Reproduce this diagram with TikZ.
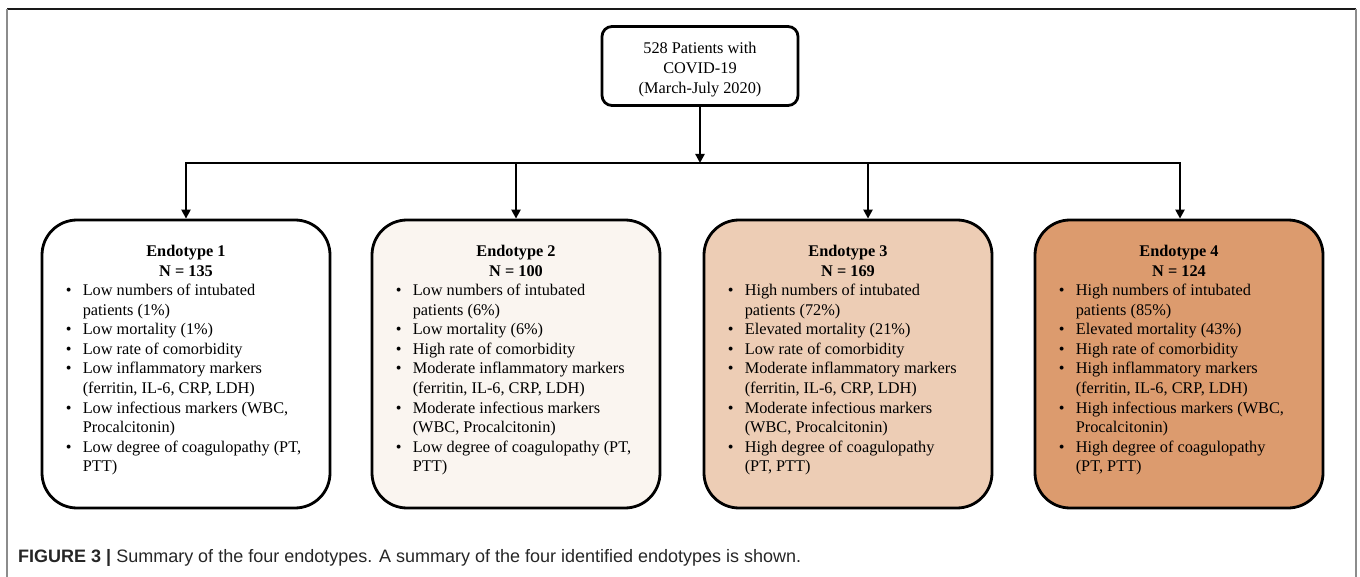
\documentclass[tikz,border=0pt]{standalone}
\usepackage{fontspec}
\setmainfont{Liberation Serif}
\setsansfont{Liberation Sans}
\usetikzlibrary{arrows.meta,positioning}

\definecolor{endo2fill}{HTML}{FAF5F0}
\definecolor{endo3fill}{HTML}{EDCDB5}
\definecolor{endo4fill}{HTML}{DC9B6E}

\begin{document}
\begin{tikzpicture}[x=1pt,y=-1pt]

    % Define styles
    \tikzset{
        start box/.style={draw=black, line width=2.8pt, rounded corners=10pt,
            minimum width=196pt, minimum height=79pt, inner sep=0pt,
            font=\fontsize{16.3}{20}\selectfont},
        endo box/.style={draw=black, line width=2.8pt, rounded corners=35pt,
            minimum width=288pt, minimum height=288pt, inner sep=0pt},
        endo title/.style={inner sep=0pt, font=\fontsize{16.3}{19.6}\selectfont\bfseries},
        endo list/.style={inner sep=0pt, font=\fontsize{16.3}{19.6}\selectfont},
        flow/.style={line width=2.6pt, draw=black},
        flow arrow/.style={flow, -{Triangle[width=9pt,length=9pt]}},
        frame top/.style={line width=1.6pt, draw=black!90},
        frame side/.style={line width=2pt, draw=black!45},
        caption/.style={inner sep=0pt, anchor=base west, font=\fontsize{18}{21}\selectfont\sffamily, text=black!85}
    }

    % Fix the page size
    \useasboundingbox (0,0) rectangle (1360,577);

    % Outer figure frame
    \draw[frame top] (7,9) -- (1356,9);
    \draw[frame side] (7,9) -- (7,577);
    \draw[frame side] (1356,9) -- (1356,577);

    % Starting cohort
    \node[start box] (top-box) at (700,66)
        {\raisebox{-3.5pt}[\height][\depth]{\begin{tabular}{@{}c@{}}528 Patients with\\COVID-19\\(March-July 2020)\end{tabular}}};

    % Endotype boxes
    \node[endo box, fill=white] (endo-1) at (186,364) {};
    \node[endo box, fill=endo2fill] (endo-2) at (516,364) {};
    \node[endo box, fill=endo3fill] (endo-3) at (848,364) {};
    \node[endo box, fill=endo4fill] (endo-4) at (1179,364) {};

    % Define coordinates for the branching line
    \coordinate (split) at (700,163);
    \coordinate (bus-1) at (186,163);
    \coordinate (bus-2) at (516,163);
    \coordinate (bus-3) at (868,163);
    \coordinate (bus-4) at (1180,163);

    % Draw the connectors
    \draw[flow arrow] (top-box) -- (split);
    \draw[flow, line cap=rect] (bus-1) -- (bus-4);
    \draw[flow arrow] (bus-1) -- (bus-1 |- endo-1.north);
    \draw[flow arrow] (bus-2) -- (bus-2 |- endo-2.north);
    \draw[flow arrow] (bus-3) -- (bus-3 |- endo-3.north);
    \draw[flow arrow] (bus-4) -- (bus-4 |- endo-4.north);

    % Endotype 1
    \node[endo title, below=24pt of endo-1.north] (endo-1-title)
        {\begin{tabular}{@{}c@{}}Endotype 1\\N = 135\end{tabular}};
    \node[endo list, below right=63pt and 25pt of endo-1.north west] (endo-1-list)
        {\begin{tabular}{@{}p{17pt}@{}l@{}}
        \textbullet & Low numbers of intubated\\
                    & patients (1\%)\\
        \textbullet & Low mortality (1\%)\\
        \textbullet & Low rate of comorbidity\\
        \textbullet & Low inflammatory markers\\
                    & (ferritin, IL-6, CRP, LDH)\\
        \textbullet & Low infectious markers (WBC,\\
                    & Procalcitonin)\\
        \textbullet & Low degree of coagulopathy (PT,\\
                    & PTT)
        \end{tabular}};

    % Endotype 2
    \node[endo title, below=24pt of endo-2.north] (endo-2-title)
        {\begin{tabular}{@{}c@{}}Endotype 2\\N = 100\end{tabular}};
    \node[endo list, below right=63pt and 25pt of endo-2.north west] (endo-2-list)
        {\begin{tabular}{@{}p{17pt}@{}l@{}}
        \textbullet & Low numbers of intubated\\
                    & patients (6\%)\\
        \textbullet & Low mortality (6\%)\\
        \textbullet & High rate of comorbidity\\
        \textbullet & Moderate inflammatory markers\\
                    & (ferritin, IL-6, CRP, LDH)\\
        \textbullet & Moderate infectious markers\\
                    & (WBC, Procalcitonin)\\
        \textbullet & Low degree of coagulopathy (PT,\\
                    & PTT)
        \end{tabular}};

    % Endotype 3
    \node[endo title, below=24pt of endo-3.north] (endo-3-title)
        {\begin{tabular}{@{}c@{}}Endotype 3\\N = 169\end{tabular}};
    \node[endo list, below right=63pt and 25pt of endo-3.north west] (endo-3-list)
        {\begin{tabular}{@{}p{17pt}@{}l@{}}
        \textbullet & High numbers of intubated\\
                    & patients (72\%)\\
        \textbullet & Elevated mortality (21\%)\\
        \textbullet & Low rate of comorbidity\\
        \textbullet & Moderate inflammatory markers\\
                    & (ferritin, IL-6, CRP, LDH)\\
        \textbullet & Moderate infectious markers\\
                    & (WBC, Procalcitonin)\\
        \textbullet & High degree of coagulopathy\\
                    & (PT, PTT)
        \end{tabular}};

    % Endotype 4
    \node[endo title, below=24pt of endo-4.north] (endo-4-title)
        {\begin{tabular}{@{}c@{}}Endotype 4\\N = 124\end{tabular}};
    \node[endo list, below right=63pt and 25pt of endo-4.north west] (endo-4-list)
        {\begin{tabular}{@{}p{17pt}@{}l@{}}
        \textbullet & High numbers of intubated\\
                    & patients (85\%)\\
        \textbullet & Elevated mortality (43\%)\\
        \textbullet & High rate of comorbidity\\
        \textbullet & High inflammatory markers\\
                    & (ferritin, IL-6, CRP, LDH)\\
        \textbullet & High infectious markers (WBC,\\
                    & Procalcitonin)\\
        \textbullet & High degree of coagulopathy\\
                    & (PT, PTT)
        \end{tabular}};

    % Figure caption
    \node[caption] (fig-caption) at (18,562)
        {\textbf{FIGURE 3 |} Summary of the four endotypes. A summary of the four identified endotypes is shown.};

\end{tikzpicture}
\end{document}
